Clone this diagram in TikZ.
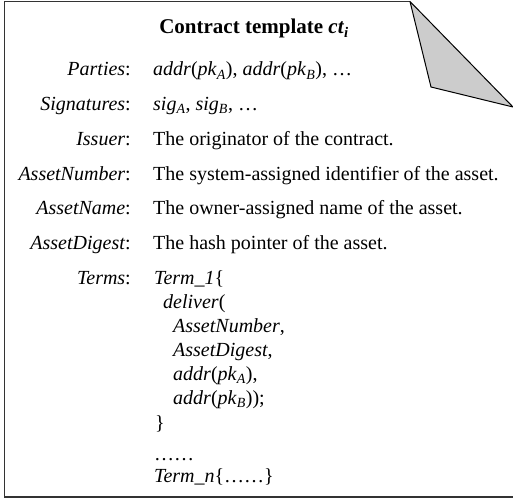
\documentclass[tikz,border=0pt]{standalone}
\usepackage{fontspec}
\setmainfont{Liberation Serif}
\newcommand{\sbi}[1]{\textsubscript{\textit{#1}}}
\begin{document}
\begin{tikzpicture}[x=1pt,y=-1pt,
  txt/.style={inner sep=0pt,font=\fontsize{20}{24}\selectfont},
  lab/.style={txt,anchor=base east},
  val/.style={txt,anchor=base west},
  frame/.style={line width=1.6pt,draw=black!80},
  fold/.style={line width=1pt,draw=black,fill=black!20,line join=round}]
\useasboundingbox (0,0) rectangle (513,500);
% sheet outline with the turned-down corner
\draw[frame] (410,1.5) -- (4.5,1.5) -- (4.5,497) -- (513,497);
\filldraw[fold] (410,1.5) -- (431,87) -- (513,107) -- cycle;
% heading
\node[txt,anchor=base,font=\fontsize{21}{25}\selectfont] (title) at (254,34)
  {\textbf{Contract template \textit{ct}\textsubscript{\textit{i}}}};
% field names
\node[lab] (lparties) at (131,76)    {\textit{Parties}:};
\node[lab] (lsig)     at (131,110.7) {\textit{Signatures}:};
\node[lab] (liss)     at (131,145.4) {\textit{Issuer}:};
\node[lab] (lanum)    at (131,180)   {\textit{AssetNumber}:};
\node[lab] (laname)   at (131,214.8) {\textit{AssetName}:};
\node[lab] (ladig)    at (131,249.5) {\textit{AssetDigest}:};
\node[lab] (lterms)   at (131,284.2) {\textit{Terms}:};
% field values
\node[val] (vparties) at (153,76)
  {\textit{addr}(\textit{pk}\sbi{A}), \textit{addr}(\textit{pk}\sbi{B}), …};
\node[val] (vsig)  at (153,110.7) {\textit{sig}\sbi{A}, \textit{sig}\sbi{B}, …};
\node[val] (viss)  at (153,145.4) {The originator of the contract.};
\node[val] (vanum) at (153,180)   {The system-assigned identifier of the asset.};
\node[val] (vaname) at (153,214.8) {The owner-assigned name of the asset.};
\node[val] (vadig) at (153,249.5) {The hash pointer of the asset.};
% terms body
\node[val] (t1)   at (154,284.2) {\textit{Term\_1}\{};
\node[val] (t2)   at (163,308.2) {\textit{deliver}(};
\node[val] (t3)   at (173,332.2) {\textit{AssetNumber},};
\node[val] (t4)   at (173,356.2) {\textit{AssetDigest},};
\node[val] (t5)   at (173,380.2) {\textit{addr}(\textit{pk}\sbi{A}),};
\node[val] (t6)   at (173,404.2) {\textit{addr}(\textit{pk}\sbi{B}));};
\node[val] (t7)   at (155,429)   {\}};
\node[val] (t8)   at (154,460)   {……};
\node[val] (t9)   at (154,482)   {\textit{Term\_n}\{……\}};
\end{tikzpicture}
\end{document}
